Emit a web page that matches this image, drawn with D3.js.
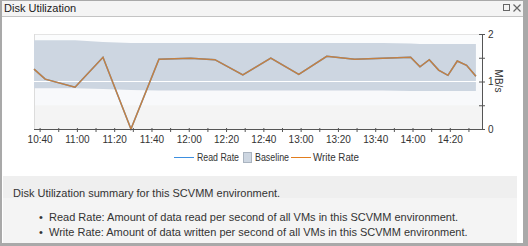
<!DOCTYPE html>
<html>
<head>
<meta charset="utf-8">
<script src="https://cdn.jsdelivr.net/npm/d3@7"></script>
<style>
  body { margin: 0; background: #fff; }
  svg text { font-family: "Liberation Sans", Arial, sans-serif; }
</style>
</head>
<body>
<div id="chartDiv"></div>
<script>
// sample times (HH:MM) and rates in MB/s
var times = ['10:37', '10:43', '10:59', '11:14', '11:29', '11:44', '12:01', '12:14', '12:29', '12:44', '12:59',
             '13:14', '13:29', '13:44', '13:59', '14:04', '14:09', '14:14', '14:19', '14:24', '14:29', '14:34'];
var writeRate = [1.26, 1.05, 0.88, 1.51, 0.0, 1.47, 1.49, 1.46, 1.14, 1.49, 1.15,
                 1.53, 1.47, 1.49, 1.51, 1.31, 1.46, 1.24, 1.13, 1.43, 1.34, 1.11];
var readRate = writeRate.slice();
var baselineHigh = [1.87, 1.87, 1.87, 1.83, 1.81, 1.81, 1.81, 1.81, 1.81, 1.81, 1.81,
                    1.81, 1.81, 1.81, 1.80, 1.79, 1.79, 1.79, 1.79, 1.79, 1.79, 1.79];
var baselineLow = [0.86, 0.86, 0.86, 0.84, 0.82, 0.81, 0.81, 0.81, 0.81, 0.81, 0.81,
                   0.81, 0.81, 0.81, 0.80, 0.80, 0.80, 0.80, 0.80, 0.80, 0.80, 0.80];
var yTicks = [0, 0.5, 1, 1.5, 2];
var legendItems = ['Read Rate', 'Baseline', 'Write Rate'];
var summaryText = 'Disk Utilization summary for this SCVMM environment.';
var bullets = ['Read Rate: Amount of data read per second of all VMs in this SCVMM environment.',
               'Write Rate: Amount of data written per second of all VMs in this SCVMM environment.'];

var svgWidth = 528;
var svgHeight = 246;

var parseTime = d3.timeParse('%H:%M');
var rows = times.map(function(t, i) {
    return { t: parseTime(t), w: writeRate[i], r: readRate[i], hi: baselineHigh[i], lo: baselineLow[i] };
});

var svg = d3.select('#chartDiv')
            .append('svg')
            .attr('width', svgWidth)
            .attr('height', svgHeight);

// window frame
svg.append('rect').attr('width', svgWidth).attr('height', svgHeight).attr('fill', '#a9a9a9');
svg.append('rect').attr('x', 2).attr('y', 1).attr('width', 521).attr('height', 242).attr('fill', '#fff');
svg.append('rect').attr('x', 2).attr('y', 1).attr('width', 521).attr('height', 15).attr('fill', '#f4f4f4');
svg.append('line').attr('x1', 2).attr('x2', 523).attr('y1', 16.5).attr('y2', 16.5).attr('stroke', '#c4c4c4');
svg.append('text').attr('x', 4).attr('y', 12).attr('font-size', 11).attr('fill', '#222').text('Disk Utilization');
// maximise / close icons
svg.append('rect').attr('x', 503.5).attr('y', 4.5).attr('width', 6).attr('height', 6)
   .attr('fill', 'none').attr('stroke', '#666');
svg.append('path').attr('d', 'M513.5,4.5L520.5,11.5M520.5,4.5L513.5,11.5').attr('stroke', '#666').attr('stroke-width', 1.2);

// scales
var x = d3.scaleTime()
          .domain([parseTime('10:37'), d3.timeMinute.offset(parseTime('10:37'), 240)])
          .range([34, 481.5]);
var y = d3.scaleLinear().domain([0, 2]).range([129, 34]);

// plot background
svg.append('rect').attr('x', 34).attr('y', y(2)).attr('width', 448).attr('height', y(0) - y(2)).attr('fill', '#fbfcfd');
svg.append('rect').attr('x', 34).attr('y', y(1)).attr('width', 448).attr('height', y(0.5) - y(1)).attr('fill', '#f8f9fb');
svg.append('rect').attr('x', 34).attr('y', y(0.5)).attr('width', 448).attr('height', y(0) - y(0.5)).attr('fill', '#f4f4f4');
svg.append('line').attr('x1', 34).attr('x2', 482).attr('y1', 34.5).attr('y2', 34.5).attr('stroke', '#e4e4e4');
svg.append('line').attr('x1', 34.5).attr('x2', 34.5).attr('y1', 34).attr('y2', 129).attr('stroke', '#dcdcdc');

// baseline band
var area = d3.area()
             .x(function(d) { return x(d.t); })
             .y0(function(d) { return y(d.lo); })
             .y1(function(d) { return y(d.hi); });
svg.append('path').datum(rows).attr('d', area).attr('fill', '#cdd6e1');

// grid line at 1
svg.append('line').attr('x1', 34).attr('x2', 482).attr('y1', y(1)).attr('y2', y(1))
   .attr('stroke', '#fff').attr('stroke-width', 1.2);

// rate lines
var readLine = d3.line().x(function(d) { return x(d.t); }).y(function(d) { return y(d.r); });
var writeLine = d3.line().x(function(d) { return x(d.t); }).y(function(d) { return y(d.w); });
svg.append('path').datum(rows).attr('d', readLine).attr('fill', 'none')
   .attr('stroke', '#3d8fe0').attr('stroke-width', 1.5);
svg.append('path').datum(rows).attr('d', writeLine).attr('fill', 'none')
   .attr('stroke', '#e27d1e').attr('stroke-width', 1.5).attr('stroke-opacity', 0.82);

// x axis
var xAxis = d3.axisBottom(x)
              .ticks(d3.timeMinute.every(10))
              .tickSize(3)
              .tickPadding(4)
              .tickFormat(function(d) { return d.getMinutes() % 20 === 0 ? d3.timeFormat('%H:%M')(d) : ''; });
var gx = svg.append('g').attr('transform', 'translate(0,129)').call(xAxis);
gx.select('.domain').attr('stroke', '#555').attr('d', 'M34,0.5H482');
gx.selectAll('.tick line').attr('stroke', '#555').attr('y1', -1);
gx.selectAll('.tick text').attr('fill', '#333').attr('font-size', 10);

// y axis (right)
var yAxis = d3.axisRight(y)
              .tickValues(yTicks)
              .tickSize(3)
              .tickPadding(3)
              .tickFormat(function(d) { return d % 1 === 0 ? d : ''; });
var gy = svg.append('g').attr('transform', 'translate(482,0)').call(yAxis);
gy.select('.domain').attr('stroke', '#555').attr('d', 'M0.5,34V129');
gy.selectAll('.tick line').attr('stroke', '#555').attr('x1', -3);
gy.selectAll('.tick text').attr('fill', '#333').attr('font-size', 10);
svg.append('text').attr('transform', 'translate(495,81) rotate(90)').attr('text-anchor', 'middle')
   .attr('font-size', 10).attr('fill', '#333').text('MB/s');

// legend
var lg = svg.append('g').attr('font-size', 10).attr('fill', '#333');
lg.append('line').attr('x1', 174).attr('x2', 194).attr('y1', 157.5).attr('y2', 157.5).attr('stroke', '#3d8fe0');
lg.append('text').attr('x', 197).attr('y', 161).attr('textLength', 42).attr('lengthAdjust', 'spacingAndGlyphs').text(legendItems[0]);
lg.append('rect').attr('x', 243.5).attr('y', 152.5).attr('width', 8).attr('height', 10)
  .attr('fill', '#cdd6e1').attr('stroke', '#aab4c0');
lg.append('text').attr('x', 255).attr('y', 161).attr('textLength', 34).attr('lengthAdjust', 'spacingAndGlyphs').text(legendItems[1]);
lg.append('line').attr('x1', 291).attr('x2', 311).attr('y1', 157.5).attr('y2', 157.5).attr('stroke', '#e27d1e');
lg.append('text').attr('x', 313).attr('y', 161).attr('textLength', 46).attr('lengthAdjust', 'spacingAndGlyphs').text(legendItems[2]);

// summary panel
svg.append('rect').attr('x', 3).attr('y', 176).attr('width', 514).attr('height', 67).attr('fill', '#f4f4f4');
svg.append('rect').attr('x', 3).attr('y', 176).attr('width', 514).attr('height', 22).attr('fill', '#efefef');
svg.append('text').attr('x', 13).attr('y', 197).attr('font-size', 11).attr('fill', '#333').text(summaryText);
bullets.forEach(function(b, i) {
    var ty = 221 + i * 15;
    svg.append('text').attr('x', 39).attr('y', ty).attr('font-size', 11).attr('fill', '#333').text('\u2022');
    svg.append('text').attr('x', 49).attr('y', ty).attr('font-size', 11).attr('fill', '#333').text(b);
});
</script>
</body>
</html>
